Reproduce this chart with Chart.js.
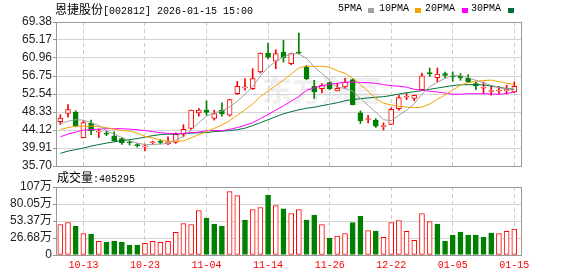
<!DOCTYPE html>
<html>
<head>
<meta charset="utf-8">
<script src="https://cdn.jsdelivr.net/npm/chart.js@4.4.1/dist/chart.umd.min.js"></script>
<style>
  html, body { margin: 0; padding: 0; background: #fff; }
  #wrap { position: relative; width: 578px; height: 276px; overflow: hidden; }
  canvas { position: absolute; left: 0; }
  .txt { position: absolute; white-space: nowrap; font-family: 'Liberation Mono', 'Noto Sans CJK SC', monospace; font-size: 10px; line-height: 12px; color: #000; }
  .cjk { font-family: 'Noto Sans CJK SC', sans-serif; font-size: 12px; }
  .sw { position: absolute; width: 6px; height: 5px; top: 8px; }
  #wm { position: absolute; left: 262px; top: 66px; font-family: 'Noto Sans CJK SC', sans-serif; font-weight: bold; font-size: 30px; color: #efefef; }
</style>
</head>
<body>
<div id="wrap">
  <div id="wm">东方财富</div>
  <canvas id="kline" width="578" height="180" style="top:0"></canvas>
  <canvas id="vol" width="578" height="104" style="top:172px"></canvas>

  <div class="txt" style="left:55px; top:3px"><span class="cjk">恩捷股份</span>[002812] 2026-01-15 15:00</div>
  <div class="txt" style="left:338px; top:3px">5PMA</div>
  <div class="sw" style="left:368px; background:#a0a0a0"></div>
  <div class="txt" style="left:379px; top:3px">10PMA</div>
  <div class="sw" style="left:415px; background:#f5a300"></div>
  <div class="txt" style="left:425px; top:3px">20PMA</div>
  <div class="sw" style="left:462px; background:#ff00ff"></div>
  <div class="txt" style="left:471px; top:3px">30PMA</div>
  <div class="sw" style="left:508px; background:#007038"></div>
  <div class="txt" style="left:57px; top:171px"><span class="cjk">成交量</span>:405295</div>
</div>

<script>
const dates = ['09-30', '10-09', '10-10', '10-13', '10-14', '10-15', '10-16', '10-17', '10-20', '10-21',
  '10-22', '10-23', '10-24', '10-27', '10-28', '10-29', '10-30', '10-31', '11-03', '11-04',
  '11-05', '11-06', '11-07', '11-10', '11-11', '11-12', '11-13', '11-14', '11-17', '11-18',
  '11-19', '11-20', '11-21', '11-24', '11-25', '11-26', '12-11', '12-12', '12-15', '12-16',
  '12-17', '12-18', '12-19', '12-22', '12-23', '12-24', '12-25', '12-26', '12-29', '12-30',
  '12-31', '01-05', '01-06', '01-07', '01-08', '01-09', '01-12', '01-13', '01-14', '01-15']

const openP = [46.07, 47.98, 48.28, 42.34, 45.72, 43.62, 43.39, 42.69, 42.11, 41.29,
  40.59, 40.17, 41.13, 41.41, 40.87, 41.22, 43.16, 44.48, 48.12, 48.75,
  46.81, 48.75, 47.58, 52.64, 53.99, 53.81, 57.68, 62.11, 60.24, 62.34,
  59.63, 62.34, 58.84, 54.34, 53.81, 55.21, 53.25, 54.18, 55.91, 48.12,
  46.58, 46.42, 44.90, 45.42, 49.10, 51.78, 51.48, 53.53, 57.54, 56.37,
  57.30, 56.74, 56.74, 56.28, 54.97, 53.88, 53.13, 53.25, 53.34, 53.01]
const highP = [47.70, 50.08, 48.63, 46.30, 46.42, 44.32, 43.85, 43.69, 42.39, 41.59,
  40.94, 40.82, 41.52, 41.87, 42.50, 43.50, 45.37, 48.80, 49.15, 50.92,
  48.75, 50.45, 51.30, 55.51, 56.14, 58.47, 62.15, 64.44, 62.90, 65.07,
  62.11, 66.77, 59.24, 55.74, 54.97, 55.35, 54.97, 56.21, 56.14, 48.59,
  47.58, 46.81, 45.79, 49.29, 52.25, 52.78, 52.28, 57.44, 58.61, 58.61,
  57.68, 57.68, 57.30, 57.07, 55.35, 55.35, 54.41, 54.34, 54.58, 55.35]
const lowP = [45.42, 47.12, 44.86, 42.29, 43.04, 42.34, 42.80, 41.52, 40.75, 40.59,
  40.12, 39.31, 40.82, 40.87, 40.71, 40.99, 42.53, 44.25, 47.35, 47.58,
  46.42, 47.35, 47.35, 52.41, 53.41, 53.57, 57.44, 60.80, 58.47, 60.01,
  59.40, 61.97, 55.91, 51.48, 52.78, 53.57, 53.22, 53.88, 50.00, 45.65,
  45.79, 44.72, 44.13, 45.40, 48.75, 51.20, 50.92, 53.41, 56.67, 55.35,
  56.28, 55.51, 55.74, 55.21, 53.57, 52.64, 52.25, 52.64, 52.60, 52.89]
const closeP = [46.88, 48.91, 45.02, 45.88, 43.97, 43.74, 43.16, 41.64, 41.17, 41.13,
  40.47, 40.26, 41.22, 41.22, 41.34, 43.09, 44.25, 48.75, 48.75, 48.21,
  47.98, 47.91, 51.24, 54.34, 54.06, 56.14, 62.11, 61.17, 61.97, 61.03,
  61.97, 62.11, 56.14, 53.01, 54.58, 53.81, 53.88, 55.35, 50.03, 46.25,
  46.65, 45.02, 45.02, 48.98, 51.71, 51.85, 52.25, 56.79, 57.26, 57.19,
  56.91, 56.51, 56.28, 55.35, 54.41, 53.95, 53.18, 53.41, 53.46, 54.34]

// volume in 万手, and whether its bar is red
const volume = [47.9, 51.0, 45.3, 33.8, 32.8, 21.3, 20.3, 21.9, 20.3, 15.6,
  15.6, 18.2, 21.3, 19.8, 21.3, 35.4, 49.5, 47.9, 69.8, 57.8,
  48.4, 45.3, 99.4, 93.2, 54.7, 71.3, 74.5, 93.7, 77.6, 72.4,
  65.1, 71.3, 54.7, 62.5, 47.9, 26.0, 29.7, 33.8, 51.0, 60.9,
  38.5, 37.5, 27.6, 51.0, 54.2, 37.0, 22.9, 65.1, 52.6, 48.4,
  21.9, 31.2, 35.9, 31.2, 31.2, 28.1, 34.4, 33.8, 37.0, 40.53]
const volumeUp = [1, 1, 0, 1, 0, 1, 0, 0, 0, 0,
  0, 1, 1, 1, 1, 1, 1, 1, 1, 0,
  0, 0, 1, 1, 0, 1, 1, 0, 1, 0,
  1, 1, 0, 0, 1, 0, 1, 1, 0, 0,
  1, 0, 1, 1, 1, 1, 1, 1, 1, 0,
  0, 0, 0, 0, 0, 0, 0, 1, 1, 1]

const ma5 = [45.60, 46.18, 46.53, 46.42, 45.84, 45.14, 43.97, 43.15, 42.34, 41.64,
  41.06, 40.71, 40.71, 40.82, 40.99, 41.76, 42.57, 44.09, 45.84, 47.35,
  48.17, 48.52, 49.56, 50.85, 52.48, 54.23, 56.79, 58.77, 60.17, 61.22,
  61.99, 61.87, 60.87, 58.84, 57.37, 55.74, 54.11, 53.88, 53.18, 51.55,
  49.91, 48.28, 46.53, 46.30, 47.58, 48.75, 50.26, 52.48, 54.23, 55.28,
  56.21, 56.91, 56.81, 56.37, 55.74, 55.16, 54.58, 54.04, 53.74, 53.69]
const ma10 = [44.25, 44.67, 45.02, 45.02, 45.02, 44.90, 44.67, 44.32, 43.97, 43.85,
  43.39, 42.64, 42.27, 41.80, 41.52, 41.48, 41.57, 42.29, 43.04, 43.76,
  44.51, 45.28, 46.28, 47.58, 48.87, 50.17, 51.94, 53.20, 54.51, 55.79,
  57.19, 58.61, 59.10, 58.96, 59.03, 58.80, 57.96, 57.37, 56.18, 54.72,
  53.18, 51.48, 50.38, 49.98, 49.68, 49.49, 49.33, 49.47, 50.19, 51.29,
  52.32, 53.46, 54.58, 55.21, 55.49, 55.70, 55.79, 55.44, 55.07, 54.79]
const ma20 = [42.53, 43.16, 43.62, 44.09, 44.20, 44.32, 44.43, 44.43, 44.43, 44.32,
  44.20, 43.97, 43.74, 43.50, 43.32, 43.27, 43.32, 43.50, 43.62, 43.95,
  44.02, 43.95, 44.27, 44.69, 45.20, 45.81, 46.77, 47.75, 48.77, 49.77,
  50.85, 51.94, 53.41, 53.99, 54.46, 54.81, 55.04, 55.28, 55.35, 55.25,
  55.18, 55.04, 54.74, 54.48, 54.37, 54.13, 53.64, 53.43, 53.20, 52.99,
  52.76, 52.48, 52.48, 52.60, 52.60, 52.60, 52.55, 52.46, 52.64, 53.04]
const ma30 = [38.65, 39.19, 39.54, 39.89, 40.36, 40.71, 41.06, 41.36, 41.64, 41.87,
  42.11, 42.46, 42.80, 43.04, 43.15, 43.15, 43.27, 43.39, 43.46, 43.50,
  43.74, 43.85, 43.97, 44.20, 44.55, 45.14, 45.84, 46.53, 47.23, 47.91,
  48.40, 48.84, 49.21, 49.45, 49.80, 50.15, 50.50, 50.96, 51.24, 51.43,
  51.62, 51.78, 51.92, 52.18, 52.53, 52.81, 53.08, 53.34, 53.64, 53.92,
  54.23, 54.51, 54.69, 54.72, 54.74, 54.65, 54.37, 54.11, 53.81, 53.60]

const priceTicks = [35.70, 39.91, 44.12, 48.33, 52.54, 56.75, 60.96, 65.17, 69.38]
const volTicks = [0, 26.68, 53.37, 80.05, 106.74]
const volTickLabels = ['0', '26.68万', '53.37万', '80.05万', '107万']
const tickDates = ['10-13', '10-23', '11-04', '11-14', '11-26', '12-22', '01-05', '01-15']

const upColor = '#ff0000'
const downColor = '#008000'
const numFont = "'Liberation Sans', 'Noto Sans CJK SC', sans-serif"
const xMin = 0.44
const xMax = 61.0
const tickIdx = tickDates.map(d => dates.indexOf(d) + 1)

const isUp = closeP.map((c, i) => c >= openP[i])
const pts = arr => arr.map((v, i) => ({ x: i + 1, y: v }))

// box round the plot area
const frame = {
  id: 'frame',
  afterDraw(chart) {
    const { ctx, chartArea: a } = chart
    ctx.save()
    ctx.strokeStyle = '#999'
    ctx.lineWidth = 1
    ctx.strokeRect(Math.round(a.left) + 0.5, Math.round(a.top) + 0.5,
      Math.round(a.right - a.left) - 1, Math.round(a.bottom - a.top))
    ctx.restore()
  }
}

const xAxis = (labels) => ({
  type: 'linear',
  offset: false,
  min: xMin,
  max: xMax,
  afterBuildTicks: s => { s.ticks = tickIdx.map(v => ({ value: v })) },
  afterFit: s => { s.height = labels ? 21 : 14 },
  ticks: {
    display: labels,
    autoSkip: false,
    maxRotation: 0,
    padding: 4,
    color: '#ff0000',
    font: { family: "'Liberation Mono', monospace", size: 10 },
    callback: v => dates[v - 1]
  },
  grid: { color: '#cccccc', drawTicks: false, offset: false },
  border: { display: false, dash: [4, 3] }
})

const lineSet = (label, data, color) => ({
  type: 'line', label, data: pts(data),
  borderColor: color, borderWidth: 1, pointRadius: 0, fill: false, tension: 0
})

new Chart(document.getElementById('kline'), {
  type: 'bar',
  data: {
    datasets: [
      lineSet('MA5', ma5, '#a0a0a0'),
      lineSet('MA10', ma10, '#f5a300'),
      lineSet('MA20', ma20, '#ff00ff'),
      lineSet('MA30', ma30, '#007038'),
      {
        label: 'body',
        data: openP.map((o, i) => ({ x: i + 1, y: [o, closeP[i]] })),
        backgroundColor: isUp.map(u => u ? '#ffffff' : downColor),
        borderColor: isUp.map(u => u ? upColor : downColor),
        borderWidth: 1,
        borderSkipped: false,
        barThickness: 5,
        minBarLength: 1,
        grouped: false
      },
      {
        label: 'wick',
        data: lowP.map((l, i) => ({ x: i + 1, y: [l, highP[i]] })),
        backgroundColor: isUp.map(u => u ? upColor : downColor),
        borderWidth: 0,
        barThickness: 1,
        grouped: false
      }
    ]
  },
  options: {
    responsive: false,
    animation: false,
    devicePixelRatio: 1,
    layout: { padding: { top: 22, right: 56, left: 0, bottom: 0 } },
    plugins: { legend: { display: false }, tooltip: { enabled: false } },
    scales: {
      x: xAxis(false),
      y: {
        min: priceTicks[0],
        max: priceTicks[priceTicks.length - 1],
        afterBuildTicks: s => { s.ticks = priceTicks.map(v => ({ value: v })) },
        afterFit: s => { s.width = 56 },
        ticks: {
          autoSkip: false,
          padding: 1,
          color: '#222',
          font: { family: numFont, size: 12 },
          callback: v => v.toFixed(2)
        },
        grid: { color: '#d4d4d4', tickColor: '#999', tickLength: 3 },
        border: { display: false }
      }
    }
  },
  plugins: [frame]
})

new Chart(document.getElementById('vol'), {
  type: 'bar',
  data: {
    datasets: [{
      label: 'volume',
      data: pts(volume),
      backgroundColor: volumeUp.map(u => u ? '#ffffff' : downColor),
      borderColor: volumeUp.map(u => u ? upColor : downColor),
      borderWidth: 1,
      borderSkipped: false,
      barThickness: 5,
      grouped: false
    }]
  },
  options: {
    responsive: false,
    animation: false,
    devicePixelRatio: 1,
    layout: { padding: { top: 15, right: 56, left: 0, bottom: 0 } },
    plugins: { legend: { display: false }, tooltip: { enabled: false } },
    scales: {
      x: xAxis(true),
      y: {
        min: volTicks[0],
        max: volTicks[volTicks.length - 1],
        afterBuildTicks: s => { s.ticks = volTicks.map(v => ({ value: v })) },
        afterFit: s => { s.width = 56 },
        ticks: {
          autoSkip: false,
          padding: 1,
          color: '#222',
          font: { family: numFont, size: 12 },
          callback: (v, i) => volTickLabels[i]
        },
        grid: { color: '#d4d4d4', tickColor: '#999', tickLength: 3 },
        border: { display: false }
      }
    }
  },
  plugins: [frame]
})
</script>
</body>
</html>
